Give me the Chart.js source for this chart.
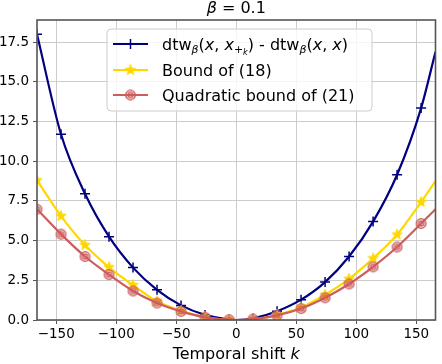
<!doctype html>
<html>
<head>
<meta charset="utf-8">
<title>beta = 0.1</title>
<script src="https://cdn.jsdelivr.net/npm/chart.js@4/dist/chart.umd.min.js"></script>
<style>
  html, body { margin: 0; padding: 0; background: #fff; }
</style>
</head>
<body>
<canvas id="c" width="442" height="364"></canvas>
<script>
// values (k = temporal shift)
const shiftK      = [-166, -146, -126, -106, -86, -66, -46, -26, -6, 0, 14, 34, 54, 74, 94, 114, 134, 154, 166];
const dtwGap      = [18.0, 11.7, 7.95, 5.25, 3.3, 1.9, 0.92, 0.32, 0.02, 0, 0.1, 0.55, 1.28, 2.39, 4.0, 6.2, 9.15, 13.35, 16.9];
const bound18     = [8.8, 6.55, 4.72, 3.32, 2.2, 1.18, 0.58, 0.19, 0.01, 0, 0.03, 0.33, 0.79, 1.59, 2.59, 3.88, 5.38, 7.43, 8.75];
const quadBound21 = [6.98, 5.41, 4.0, 2.86, 1.83, 1.07, 0.54, 0.17, 0.02, 0, 0.06, 0.29, 0.72, 1.4, 2.27, 3.35, 4.6, 6.08, 6.98];
const markedK     = [-166, -146, -126, -106, -86, -66, -46, -26, -6, 14, 34, 54, 74, 94, 114, 134, 154];
const xTicks = [-150, -100, -50, 0, 50, 100, 150];
const yTicks = [0, 2.5, 5, 7.5, 10, 12.5, 15, 17.5];

const BLUE = '#000080', GOLD = '#ffd700', RED = '#cd5c5c';
const FONT = '"DejaVu Sans", sans-serif';

function starMarker(r, color) {
  const c = document.createElement('canvas');
  const s = Math.ceil(r * 2 + 3);
  c.width = c.height = s;
  const g = c.getContext('2d');
  g.translate(s / 2, s / 2);
  g.beginPath();
  for (let i = 0; i < 10; i++) {
    const rr = i % 2 ? r * 0.42 : r;
    const a = -Math.PI / 2 + i * Math.PI / 5;
    g.lineTo(rr * Math.cos(a), rr * Math.sin(a));
  }
  g.closePath();
  g.fillStyle = color; g.fill();
  g.lineWidth = 1; g.strokeStyle = color; g.stroke();
  return c;
}

function ringMarker(r, color) {
  const c = document.createElement('canvas');
  const s = Math.ceil(r * 2 + 3);
  c.width = c.height = s;
  const g = c.getContext('2d');
  g.translate(s / 2, s / 2);
  g.beginPath(); g.arc(0, 0, r, 0, Math.PI * 2);
  g.fillStyle = 'rgba(205,92,92,0.3)'; g.fill();
  g.lineWidth = 1.3; g.strokeStyle = color; g.stroke();
  g.beginPath(); g.arc(0, 0, r * 0.5, 0, Math.PI * 2);
  g.lineWidth = 1.2; g.stroke();
  return c;
}

const starImg = starMarker(5.5, GOLD);
const ringImg = ringMarker(4.8, RED);

const toPts = ys => shiftK.map((k, i) => ({ x: k, y: ys[i] }));
const markRadius = r => ctx => markedK.includes(shiftK[ctx.dataIndex]) ? r : 0;

function line(data, color, style, r, order) {
  return {
    data: toPts(data), borderColor: color, backgroundColor: color,
    borderWidth: 2.2, pointStyle: style, pointRadius: markRadius(r),
    pointBorderWidth: 1.5, pointBorderColor: color, pointBackgroundColor: color,
    cubicInterpolationMode: 'monotone', clip: 0, order
  };
}

// draws a run of text pieces (sub/superscripts, italic) from x at a baseline
function drawRich(g, x, y, parts) {
  for (const p of parts) {
    g.font = (p.it ? 'italic ' : '') + p.size + 'px ' + FONT;
    g.fillText(p.t, x, y + (p.dy || 0));
    x += g.measureText(p.t).width;
  }
  return x;
}

function richWidth(g, parts) {
  let w = 0;
  for (const p of parts) {
    g.font = (p.it ? 'italic ' : '') + p.size + 'px ' + FONT;
    w += g.measureText(p.t).width;
  }
  return w;
}

const LS = 16, SS = 11;
const legendRows = [
  { color: BLUE, marker: 'cross', parts: [
    { t: 'dtw', size: LS }, { t: 'β', size: SS, it: true, dy: 3 }, { t: '(', size: LS },
    { t: 'x', size: LS, it: true }, { t: ', ', size: LS }, { t: 'x', size: LS, it: true },
    { t: '+', size: SS, dy: 3.5 }, { t: 'k', size: 8, it: true, dy: 5.5 },
    { t: ') - dtw', size: LS }, { t: 'β', size: SS, it: true, dy: 3 }, { t: '(', size: LS },
    { t: 'x', size: LS, it: true }, { t: ', ', size: LS }, { t: 'x', size: LS, it: true }, { t: ')', size: LS }
  ] },
  { color: GOLD, marker: starImg, parts: [{ t: 'Bound of (18)', size: LS }] },
  { color: RED, marker: ringImg, parts: [{ t: 'Quadratic bound of (21)', size: LS }] }
];

const decor = {
  id: 'decor',
  afterDraw(chart) {
    const g = chart.ctx, a = chart.chartArea;
    g.save();
    // frame
    g.strokeStyle = '#555'; g.lineWidth = 1.6;
    g.strokeRect(a.left, a.top, a.right - a.left, a.bottom - a.top);

    g.fillStyle = '#000'; g.textBaseline = 'alphabetic';
    // title
    const title = [{ t: 'β', size: 16, it: true }, { t: ' = 0.1', size: 16 }];
    const cx = (a.left + a.right) / 2;
    drawRich(g, cx - richWidth(g, title) / 2, 12.5, title);
    // x label
    const xl = [{ t: 'Temporal shift ', size: 16 }, { t: 'k', size: 16, it: true }];
    drawRich(g, cx - richWidth(g, xl) / 2, 359, xl);

    // legend box
    const bx = 107, by = 29, bw = 265, bh = 82, rad = 4;
    g.beginPath();
    g.roundRect(bx, by, bw, bh, rad);
    g.fillStyle = 'rgba(255,255,255,0.8)'; g.fill();
    g.strokeStyle = '#cccccc'; g.lineWidth = 1; g.stroke();

    const rowY = [44, 70, 95];
    const baseY = [49.5, 75.5, 101];
    legendRows.forEach((row, i) => {
      const y = rowY[i];
      g.strokeStyle = row.color; g.lineWidth = 2.2;
      g.beginPath(); g.moveTo(113, y); g.lineTo(148, y); g.stroke();
      if (row.marker === 'cross') {
        g.lineWidth = 1.5;
        g.beginPath(); g.moveTo(125.5, y); g.lineTo(135.5, y);
        g.moveTo(130.5, y - 5); g.lineTo(130.5, y + 5); g.stroke();
      } else {
        g.drawImage(row.marker, 130.5 - row.marker.width / 2, y - row.marker.height / 2);
      }
      g.fillStyle = '#000';
      drawRich(g, 162, baseY[i], row.parts);
    });
    g.restore();
  }
};

const tickFont = { family: FONT, size: 13.5 };

new Chart(document.getElementById('c'), {
  type: 'line',
  data: {
    datasets: [
      line(dtwGap, BLUE, 'cross', 5, 3),
      line(bound18, GOLD, starImg, 5, 2),
      line(quadBound21, RED, ringImg, 5, 1)
    ]
  },
  options: {
    responsive: false,
    animation: false,
    events: [],
    layout: { padding: { top: 20, right: 3, left: 0, bottom: 0 } },
    plugins: { legend: { display: false }, tooltip: { enabled: false }, title: { display: false } },
    scales: {
      x: {
        type: 'linear', min: -166, max: 166,
        afterBuildTicks: s => { s.ticks = xTicks.map(v => ({ value: v })); },
        afterFit: s => { s.height = 44; },
        ticks: {
          autoSkip: false, maxRotation: 0, padding: 2, color: '#000', font: tickFont,
          callback: v => v < 0 ? '\u2212' + Math.abs(v) : String(v)
        },
        grid: { color: '#cccccc', lineWidth: 1, tickLength: 4, tickColor: '#555' },
        border: { display: false }
      },
      y: {
        type: 'linear', min: 0, max: 18.9,
        afterBuildTicks: s => { s.ticks = yTicks.map(v => ({ value: v })); },
        afterFit: s => { s.width = 37; },
        ticks: { padding: 4, color: '#000', font: tickFont, callback: v => v.toFixed(1) },
        grid: { color: '#cccccc', lineWidth: 1, tickLength: 4, tickColor: '#555' },
        border: { display: false }
      }
    }
  },
  plugins: [decor]
});
</script>
</body>
</html>
